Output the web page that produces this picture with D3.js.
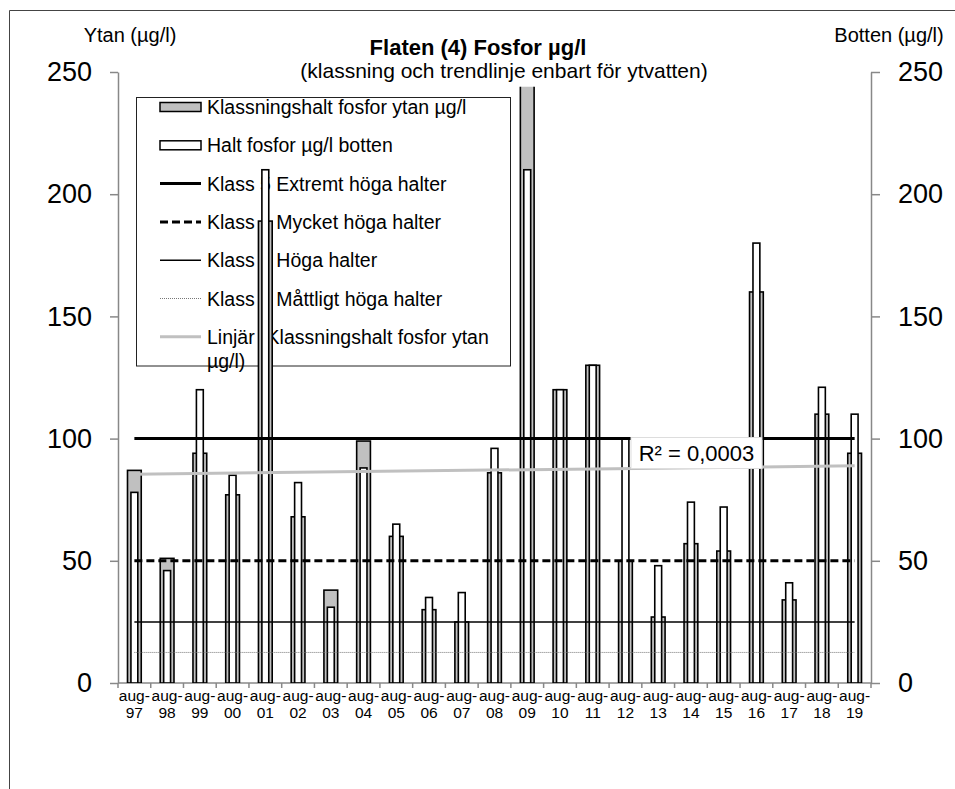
<!DOCTYPE html>
<html>
<head>
<meta charset="utf-8">
<script src="https://cdn.jsdelivr.net/npm/d3@7"></script>
<style>
  body { margin: 0; background: #fff; }
  svg { display: block; font-family: "Liberation Sans", Arial, sans-serif; }
</style>
</head>
<body>
<svg id="chart" width="955" height="789"></svg>
<script>
(function () {

// August samples, 1997-2019
var years = ['97','98','99','00','01','02','03','04','05','06','07','08',
             '09','10','11','12','13','14','15','16','17','18','19'];

// Klassningshalt fosfor ytan µg/l (grey bars, left axis)
var ytan = [87, 51, 94, 77, 189, 68, 38, 99, 60, 30, 25, 86,
            264, 120, 130, 50, 27, 57, 54, 160, 34, 110, 94];

// Halt fosfor µg/l botten (white bars, right axis)
var botten = [78, 46, 120, 85, 210, 82, 31, 88, 65, 35, 37, 96,
              210, 120, 130, 100, 48, 74, 72, 180, 41, 121, 110];

// class limits drawn as horizontal lines
var classNames = ['Klass 5 Extremt höga halter', 'Klass 4 Mycket höga halter',
                  'Klass 3 Höga halter', 'Klass 2 Måttligt höga halter'];
var classLevels = [100, 50, 25, 12.5];

var yTicks = [0, 50, 100, 150, 200, 250];
var r2Label = 'R² = 0,0003';

var classStyles = [
	{ stroke: '#000', width: 3, dash: null },
	{ stroke: '#000', width: 3, dash: '8,4' },
	{ stroke: '#000', width: 1.5, dash: null },
	{ stroke: '#777', width: 1, dash: '1,1' }
];

var svg = d3.select('#chart');
var left = 118, right = 871, top = 72, bottom = 683;

var x = d3.scaleBand().domain(years).range([left, right]).padding(0);
var y = d3.scaleLinear().domain([0, 250]).range([bottom, top]);
var yRight = d3.scaleLinear().domain([0, 250]).range([bottom, top]);
var bw = x.bandwidth();
var cx = function (d) { return x(d) + bw / 2; };

// outer chart border (only top/left show inside the picture)
svg.append('path')
	.attr('d', 'M9.5,789 V10.5 H955')
	.attr('fill', 'none')
	.attr('stroke', '#444')
	.attr('stroke-width', 1);

// titles
svg.append('text')
	.attr('x', 478).attr('y', 55)
	.attr('text-anchor', 'middle')
	.attr('font-size', 22).attr('font-weight', 'bold')
	.text('Flaten (4) Fosfor µg/l');
svg.append('text')
	.attr('x', 504).attr('y', 78)
	.attr('text-anchor', 'middle')
	.attr('font-size', 21)
	.text('(klassning och trendlinje enbart för ytvatten)');
svg.append('text')
	.attr('x', 130).attr('y', 42)
	.attr('text-anchor', 'middle')
	.attr('font-size', 20)
	.text('Ytan (µg/l)');
svg.append('text')
	.attr('x', 889).attr('y', 42)
	.attr('text-anchor', 'middle')
	.attr('font-size', 20)
	.text('Botten (µg/l)');

// axes
var axisColor = '#888';
var gLeft = svg.append('g')
	.attr('transform', 'translate(' + left + ',0)')
	.call(d3.axisLeft(y).tickValues(yTicks).tickSize(8).tickSizeOuter(0).tickPadding(18));
var gRight = svg.append('g')
	.attr('transform', 'translate(' + right + ',0)')
	.call(d3.axisRight(yRight).tickValues(yTicks).tickSize(9).tickSizeOuter(0).tickPadding(18));
[gLeft, gRight].forEach(function (g) {
	g.select('.domain').attr('stroke', axisColor).attr('stroke-width', 1.5);
	g.selectAll('.tick line').attr('stroke', axisColor).attr('stroke-width', 1.5);
	g.selectAll('.tick text')
		.attr('font-family', '"Liberation Sans", Arial, sans-serif')
		.attr('font-size', 27).attr('fill', '#000');
});

// bottom axis: ticks between categories
var gBottom = svg.append('g');
gBottom.append('line')
	.attr('x1', left).attr('x2', right)
	.attr('y1', bottom).attr('y2', bottom)
	.attr('stroke', axisColor).attr('stroke-width', 1.5);
var bounds = years.map(function (d) { return x(d); }).concat([right]);
gBottom.selectAll('line.tick')
	.data(bounds)
	.enter().append('line')
	.attr('class', 'tick')
	.attr('x1', function (d) { return d; }).attr('x2', function (d) { return d; })
	.attr('y1', bottom).attr('y2', bottom + 5)
	.attr('stroke', axisColor).attr('stroke-width', 1.5);
var labels = gBottom.selectAll('text')
	.data(years)
	.enter().append('text')
	.attr('text-anchor', 'middle')
	.attr('font-size', 15.5);
labels.append('tspan')
	.attr('x', cx).attr('y', 701)
	.text('aug-');
labels.append('tspan')
	.attr('x', cx).attr('y', 718)
	.text(function (d) { return d; });

// legend (drawn before the bars, bars paint over it)
var lg = svg.append('g');
lg.append('rect')
	.attr('x', 136.5).attr('y', 97.5)
	.attr('width', 374).attr('height', 268.5)
	.attr('fill', 'none').attr('stroke', '#222').attr('stroke-width', 1);
var rowY = function (i) { return 107 + i * 38.3; };
var legendItems = [
	{ label: 'Klassningshalt fosfor ytan µg/l', type: 'rect', fill: '#c0c0c0' },
	{ label: 'Halt fosfor µg/l botten', type: 'rect', fill: '#fff' }
].concat(classNames.map(function (n, i) {
	return { label: n, type: 'line', style: classStyles[i] };
})).concat([{ label: 'Linjär (Klassningshalt fosfor ytan', label2: 'µg/l)', type: 'line',
	style: { stroke: '#c0c0c0', width: 3, dash: null } }]);

legendItems.forEach(function (it, i) {
	var cy = rowY(i);
	if (it.type === 'rect') {
		lg.append('rect')
			.attr('x', 160).attr('y', cy - 4.5)
			.attr('width', 41).attr('height', 9)
			.attr('fill', it.fill).attr('stroke', '#000').attr('stroke-width', 1.5);
	} else {
		lg.append('line')
			.attr('x1', 160).attr('x2', 201)
			.attr('y1', cy).attr('y2', cy)
			.attr('stroke', it.style.stroke).attr('stroke-width', it.style.width)
			.attr('stroke-dasharray', it.style.dash);
	}
	lg.append('text')
		.attr('x', 207).attr('y', cy + 7)
		.attr('font-size', 19.5)
		.text(it.label);
	if (it.label2) {
		lg.append('text')
			.attr('x', 207).attr('y', cy + 31)
			.attr('font-size', 19.5)
			.text(it.label2);
	}
});

// clip for the bars: the tallest bar is cut at the plot top
svg.append('clipPath').attr('id', 'plotClip')
	.append('rect')
	.attr('x', left).attr('y', y(244))
	.attr('width', right - left).attr('height', bottom - y(244));

var bars = svg.append('g').attr('clip-path', 'url(#plotClip)');
var gw = bw * 0.42, ww = bw * 0.21;

bars.selectAll('rect.ytan')
	.data(years)
	.enter().append('rect')
	.attr('class', 'ytan')
	.attr('x', function (d) { return cx(d) - gw / 2; })
	.attr('y', function (d, i) { return y(ytan[i]); })
	.attr('width', gw)
	.attr('height', function (d, i) { return bottom - y(ytan[i]); })
	.attr('fill', '#c0c0c0').attr('stroke', '#000').attr('stroke-width', 1.6);

bars.selectAll('rect.botten')
	.data(years)
	.enter().append('rect')
	.attr('class', 'botten')
	.attr('x', function (d) { return cx(d) - ww / 2; })
	.attr('y', function (d, i) { return yRight(botten[i]); })
	.attr('width', ww)
	.attr('height', function (d, i) { return bottom - yRight(botten[i]); })
	.attr('fill', '#fff').attr('stroke', '#000').attr('stroke-width', 1.6);

// class lines, first to last category centre
var x0 = cx(years[0]), x1 = cx(years[years.length - 1]);
classLevels.forEach(function (v, i) {
	var s = classStyles[i];
	svg.append('line')
		.attr('x1', x0).attr('x2', x1)
		.attr('y1', y(v)).attr('y2', y(v))
		.attr('stroke', s.stroke).attr('stroke-width', s.width)
		.attr('stroke-dasharray', s.dash);
});

// linear trendline on the surface values
var n = ytan.length;
var mx = d3.mean(ytan, function (d, i) { return i; });
var my = d3.mean(ytan);
var sxy = d3.sum(ytan, function (d, i) { return (i - mx) * (d - my); });
var sxx = d3.sum(ytan, function (d, i) { return (i - mx) * (i - mx); });
var slope = sxy / sxx, icpt = my - slope * mx;
svg.append('line')
	.attr('x1', x0).attr('x2', x1)
	.attr('y1', y(icpt)).attr('y2', y(icpt + slope * (n - 1)))
	.attr('stroke', '#c0c0c0').attr('stroke-width', 3);

// R² label
var lbl = svg.append('g');
lbl.append('rect')
	.attr('x', 631).attr('y', 437.5)
	.attr('width', 131).attr('height', 31)
	.attr('fill', '#fff').attr('stroke', '#ddd').attr('stroke-width', 1);
lbl.append('text')
	.attr('x', 696.5).attr('y', 461)
	.attr('text-anchor', 'middle')
	.attr('font-size', 22)
	.text(r2Label);

})();
</script>
</body>
</html>
